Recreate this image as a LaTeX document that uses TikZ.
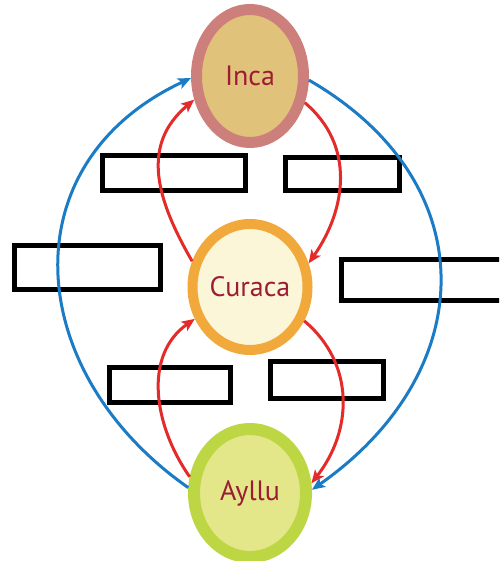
\documentclass[tikz,border=0pt]{standalone}
\usepackage{fontspec}
\setmainfont{PT Sans}
\usetikzlibrary{shapes.geometric,arrows.meta}
\definecolor{incaring}{HTML}{CD7F7C}
\definecolor{incafill}{HTML}{E0C27A}
\definecolor{curring}{HTML}{F2A93B}
\definecolor{curfill}{HTML}{FCF6D9}
\definecolor{ayring}{HTML}{BDD744}
\definecolor{ayfill}{HTML}{E3E689}
\definecolor{txt}{HTML}{9C1C36}
\definecolor{redarr}{HTML}{E52A2A}
\definecolor{bluearr}{HTML}{1B7BC5}
\begin{document}
\begin{tikzpicture}[x=1pt,y=1pt,
  circ/.style={ellipse, inner sep=0pt, font=\fontsize{28}{33}\selectfont, text=txt},
  box/.style={draw=black, line width=5pt, inner sep=0pt},
  redline/.style={draw=redarr, line width=3pt, -{Stealth[length=13pt,width=11pt,inset=3pt]}},
  blueline/.style={draw=bluearr, line width=3pt, -{Stealth[length=13pt,width=11pt,inset=3pt]}}
]
\useasboundingbox (0,0) rectangle (499,561);
\clip (0,0) rectangle (499,561);
\fill[white] (0,0) rectangle (499,561);

% boxes
\node[box, minimum width=143pt, minimum height=35pt] (b1) at (174,388) {};
\node[box, minimum width=114pt, minimum height=33pt] (b2) at (342.5,387) {};
\node[box, minimum width=146pt, minimum height=44pt] (b3) at (87.5,293.5) {};
\node[box, minimum width=200pt, minimum height=41pt] (b4) at (441.5,281) {};
\node[box, minimum width=121pt, minimum height=35pt] (b5) at (170,176) {};
\node[box, minimum width=113pt, minimum height=37pt] (b6) at (327,181) {};

% circles
\node[circ, draw=incaring, fill=incafill, line width=11pt, minimum width=107pt, minimum height=133pt] (inca) at (250,485) {Inca};
\node[circ, draw=curring, fill=curfill, line width=10pt, minimum width=115pt, minimum height=126pt] (cur) at (250,274) {Curaca};
\node[circ, draw=ayring, fill=ayfill, line width=12pt, minimum width=112pt, minimum height=128pt] (ayl) at (250,68) {Ayllu};

% red arrows
\draw[redline] (cur.156) to[out=120,in=220,looseness=1.12] (inca.203);
\draw[redline] (inca.334) to[out=-40,in=55,looseness=1.05] (cur.22);
\draw[redline] (ayl.165) to[out=125,in=215,looseness=1.02] (cur.210);
\draw[redline] (cur.328) to[out=-40,in=52,looseness=1.05] (ayl.9);

% blue arrows
\draw[blueline] (ayl.175) to[out=145,in=205,looseness=1.26] (inca.182);
\draw[blueline] (inca.356) to[out=-30,in=35,looseness=1.28] (ayl.3);
\end{tikzpicture}
\end{document}
